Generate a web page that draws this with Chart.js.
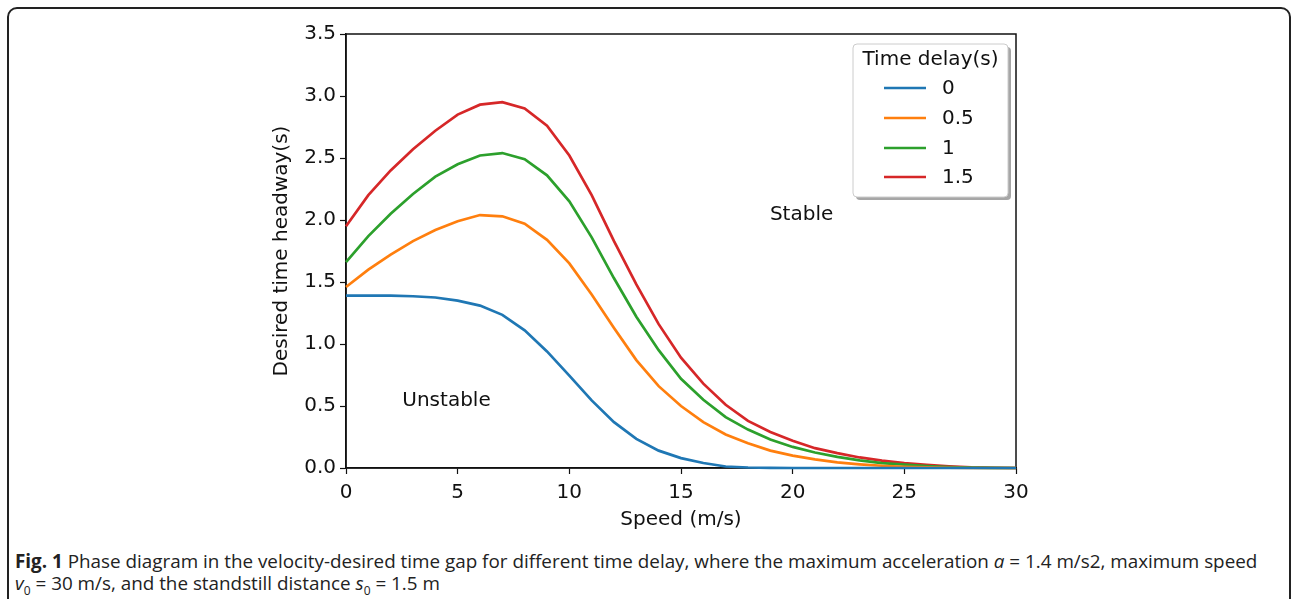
<!DOCTYPE html>
<html>
<head>
<meta charset="utf-8">
<script src="https://cdn.jsdelivr.net/npm/chart.js@4.4.1/dist/chart.umd.min.js"></script>
<style>
  html, body { margin: 0; padding: 0; background: #fff; }
  body { width: 1293px; height: 599px; position: relative; overflow: hidden; }
  #frame {
    position: absolute; left: 7px; top: 7px; width: 1284px; height: 610px;
    border: 2px solid #222; border-radius: 10px; box-sizing: border-box;
  }
  #wrap { position: absolute; left: 0; top: 0; width: 1293px; height: 540px; }
  .cap {
    position: absolute; left: 15px; font-family: "Open Sans", sans-serif;
    font-size: 18.85px; color: #222; white-space: nowrap;
  }
  .cap b { font-weight: bold; }
</style>
</head>
<body>
<div id="frame"></div>
<div id="wrap"><canvas id="chart" width="1293" height="540"></canvas></div>
<div class="cap" style="top:548px"><b>Fig. 1</b> Phase diagram in the velocity-desired time gap for different time delay, where the maximum acceleration <i>a</i> = 1.4 m/s2, maximum speed</div>
<div class="cap" style="top:570px"><i>v</i><sub style="font-size:12px">0</sub> = 30 m/s, and the standstill distance <i>s</i><sub style="font-size:12px">0</sub> = 1.5 m</div>

<script>
// speed (m/s), one sample per integer speed
const speeds = [0,1,2,3,4,5,6,7,8,9,10,11,12,13,14,15,16,17,18,19,20,21,22,23,24,25,26,27,28,29,30];

const delayLabels = ['0', '0.5', '1', '1.5'];
const delayColors = ['#1f77b4', '#ff7f0e', '#2ca02c', '#d62728'];

// desired time headway (s) for each time delay
const headway0 = [1.39,1.39,1.39,1.385,1.375,1.35,1.31,1.235,1.11,0.94,0.745,0.545,0.37,0.235,0.14,0.08,0.04,0.012,0.004,0.001,0,0,0,0,0,0,0,0,0,0,0];
const headway05 = [1.46,1.60,1.72,1.83,1.92,1.99,2.04,2.03,1.97,1.84,1.65,1.40,1.13,0.87,0.66,0.50,0.37,0.27,0.20,0.14,0.10,0.07,0.045,0.03,0.018,0.01,0.005,0.002,0,0,0];
const headway1 = [1.66,1.87,2.05,2.21,2.35,2.45,2.52,2.54,2.49,2.36,2.15,1.86,1.53,1.22,0.95,0.72,0.55,0.41,0.31,0.23,0.17,0.125,0.09,0.062,0.04,0.027,0.016,0.008,0.003,0.001,0];
const headway15 = [1.95,2.20,2.40,2.57,2.72,2.85,2.93,2.95,2.90,2.76,2.52,2.20,1.83,1.48,1.16,0.89,0.68,0.51,0.38,0.29,0.22,0.16,0.12,0.085,0.06,0.04,0.025,0.014,0.006,0.002,0];

const allSeries = [headway0, headway05, headway1, headway15];

const FONT = 'DejaVu Sans, Verdana, sans-serif';
const FS = 20;

// matplotlib-ish extras: full box, region labels, legend with title
const extras = {
    id: 'extras',
    beforeDatasetsDraw(chart) {
        const { ctx, chartArea: a } = chart;
        ctx.save();
        ctx.strokeStyle = '#111';
        ctx.lineWidth = 1.5;
        ctx.strokeRect(a.left, a.top, a.right - a.left, a.bottom - a.top);
        ctx.restore();
    },
    afterDraw(chart) {
        const { ctx, scales } = chart;
        const x = scales.x, y = scales.y;
        ctx.save();
        ctx.fillStyle = '#111';
        ctx.font = FS + 'px ' + FONT;
        ctx.textAlign = 'center';
        ctx.textBaseline = 'middle';
        ctx.fillText('Stable', x.getPixelForValue(20.4), y.getPixelForValue(2.04));
        ctx.fillText('Unstable', x.getPixelForValue(4.5), y.getPixelForValue(0.54));

        // legend box
        const lx = 853, ly = 44, lw = 155, lh = 153;
        ctx.fillStyle = 'rgba(0,0,0,0.35)';
        roundRect(ctx, lx + 3, ly + 3, lw, lh, 4);
        ctx.fill();
        ctx.fillStyle = '#fff';
        ctx.strokeStyle = '#ccc';
        ctx.lineWidth = 1;
        roundRect(ctx, lx, ly, lw, lh, 4);
        ctx.fill();
        ctx.stroke();

        ctx.fillStyle = '#111';
        ctx.textAlign = 'center';
        ctx.fillText('Time delay(s)', lx + lw / 2, 60);
        const rows = [88, 118, 148, 177];
        ctx.textAlign = 'left';
        delayLabels.forEach((lab, i) => {
            ctx.strokeStyle = delayColors[i];
            ctx.lineWidth = 2.7;
            ctx.beginPath();
            ctx.moveTo(884, rows[i]);
            ctx.lineTo(926, rows[i]);
            ctx.stroke();
            ctx.fillStyle = '#111';
            ctx.fillText(lab, 942, rows[i] + 1);
        });
        ctx.restore();
    }
};

function roundRect(ctx, x, y, w, h, r) {
    ctx.beginPath();
    ctx.moveTo(x + r, y);
    ctx.lineTo(x + w - r, y);
    ctx.quadraticCurveTo(x + w, y, x + w, y + r);
    ctx.lineTo(x + w, y + h - r);
    ctx.quadraticCurveTo(x + w, y + h, x + w - r, y + h);
    ctx.lineTo(x + r, y + h);
    ctx.quadraticCurveTo(x, y + h, x, y + h - r);
    ctx.lineTo(x, y + r);
    ctx.quadraticCurveTo(x, y, x + r, y);
    ctx.closePath();
}

const datasets = allSeries.map((vals, i) => ({
    label: delayLabels[i],
    data: speeds.map((s, k) => ({ x: s, y: vals[k] })),
    borderColor: delayColors[i],
    backgroundColor: delayColors[i],
    borderWidth: 2.7,
    pointRadius: 0,
    tension: 0,
    fill: false,
    clip: false
}));

new Chart(document.getElementById('chart'), {
    type: 'line',
    data: { datasets },
    options: {
        responsive: false,
        animation: false,
        events: [],
        layout: { padding: { left: 266, right: 277, top: 34, bottom: 8 } },
        plugins: {
            legend: { display: false },
            tooltip: { enabled: false }
        },
        scales: {
            x: {
                type: 'linear',
                min: 0, max: 30,
                afterFit: s => { s.height = 64; },
                grid: { drawOnChartArea: false, tickLength: 6, tickColor: '#111', tickWidth: 1.2 },
                border: { color: '#111', width: 1.5 },
                ticks: { stepSize: 5, color: '#111', font: { family: FONT, size: FS }, padding: 7, maxRotation: 0 },
                title: { display: true, text: 'Speed (m/s)', color: '#111', font: { family: FONT, size: FS }, padding: { top: 0, bottom: 0 } }
            },
            y: {
                min: 0, max: 3.5,
                afterFit: s => { s.width = 80; },
                grid: { drawOnChartArea: false, tickLength: 6, tickColor: '#111', tickWidth: 1.2 },
                border: { color: '#111', width: 1.5 },
                ticks: { stepSize: 0.5, color: '#111', font: { family: FONT, size: FS }, padding: 4,
                         callback: v => v.toFixed(1) },
                title: { display: true, text: 'Desired time headway(s)', color: '#111', font: { family: FONT, size: FS }, padding: 4 }
            }
        }
    },
    plugins: [extras]
});
</script>
</body>
</html>
